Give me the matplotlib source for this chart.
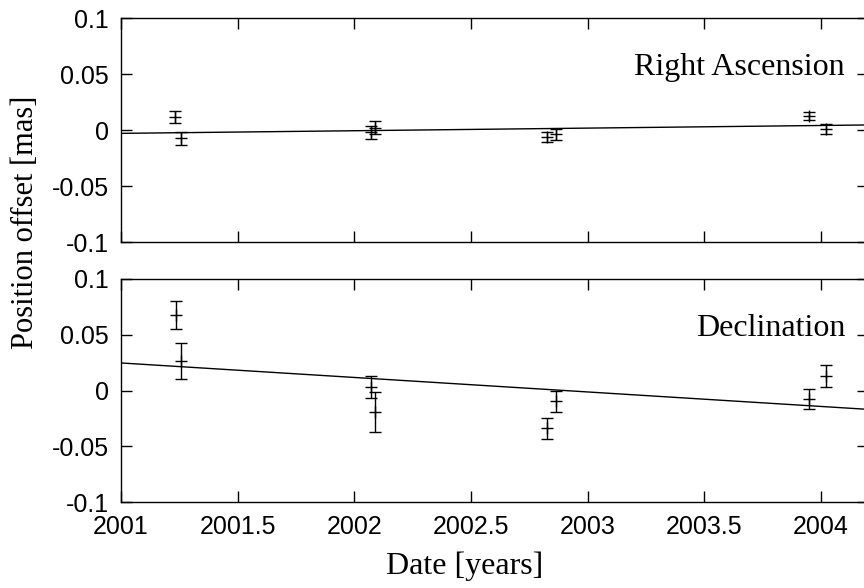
import matplotlib
matplotlib.use("Agg")
import matplotlib.pyplot as plt
import numpy as np

# Data
ra_years = [2001.231, 2001.257, 2002.07, 2002.09, 2002.824, 2002.864, 2003.949, 2004.02]
ra_vals = [0.0119, -0.0074, -0.002, 0.002, -0.006, -0.004, 0.0125, 0.0009]
ra_errs = [0.0054, 0.0058, 0.006, 0.006, 0.0045, 0.0045, 0.0036, 0.0042]
ra_fit_x = [2001.0, 2004.2]
ra_fit_y = [-0.003, 0.0045]

dec_years = [2001.234, 2001.257, 2002.07, 2002.09, 2002.826, 2002.863, 2003.949, 2004.02]
dec_vals = [0.068, 0.0267, 0.003, -0.019, -0.034, -0.0097, -0.0076, 0.0127]
dec_errs = [0.0124, 0.016, 0.010, 0.018, 0.0094, 0.0094, 0.0088, 0.010]
dec_fit_x = [2001.0, 2004.2]
dec_fit_y = [0.0247, -0.0169]

xticks = [2001, 2001.5, 2002, 2002.5, 2003, 2003.5, 2004]
xticklabels = ["2001", "2001.5", "2002", "2002.5", "2003", "2003.5", "2004"]
yticks = [-0.1, -0.05, 0, 0.05, 0.1]
yticklabels = ["-0.1", "-0.05", "0", "0.05", "0.1"]

W, H = 864, 588
fig = plt.figure(figsize=(W / 100, H / 100), dpi=100)

def px_axes(left, top, right, bottom):
    return fig.add_axes([left / W, 1 - bottom / H, (right - left) / W, (bottom - top) / H])

ax1 = px_axes(121, 18, 867.6, 242)
ax2 = px_axes(121, 279, 867.6, 502)

sans = "Liberation Sans"
serif = "Liberation Serif"

for ax, xs, ys, es, fx, fy, label in [
    (ax1, ra_years, ra_vals, ra_errs, ra_fit_x, ra_fit_y, "Right Ascension"),
    (ax2, dec_years, dec_vals, dec_errs, dec_fit_x, dec_fit_y, "Declination"),
]:
    ax.errorbar(xs, ys, yerr=es, fmt="+", color="black", ecolor="black",
                elinewidth=1.0, capsize=4.3, capthick=1.0, markersize=8, mew=1.0)
    ax.plot(fx, fy, color="black", lw=1.0)
    ax.set_xlim(2001, 2004.2)
    ax.set_ylim(-0.1, 0.1)
    ax.set_xticks(xticks)
    ax.set_yticks(yticks)
    ax.set_yticklabels(yticklabels, fontfamily=sans, fontsize=18)
    ax.tick_params(direction="in", length=8, width=1.0, top=True, right=True, pad=9)
    for s in ax.spines.values():
        s.set_linewidth(1.0)
    ax.text(2004.103, 0.049, label, ha="right", va="baseline", fontfamily=serif, fontsize=23)

ax1.set_xticklabels([])
ax2.set_xticklabels(xticklabels, fontfamily=sans, fontsize=18)

fig.text(465 / W, 1 - 566 / H, "Date [years]", ha="center", va="center",
         fontfamily=serif, fontsize=23)
fig.text(26 / W, 1 - 222 / H, "Position offset [mas]", rotation=90, ha="center", va="center",
         fontfamily=serif, fontsize=22)

fig.savefig("out.png", dpi=100)
